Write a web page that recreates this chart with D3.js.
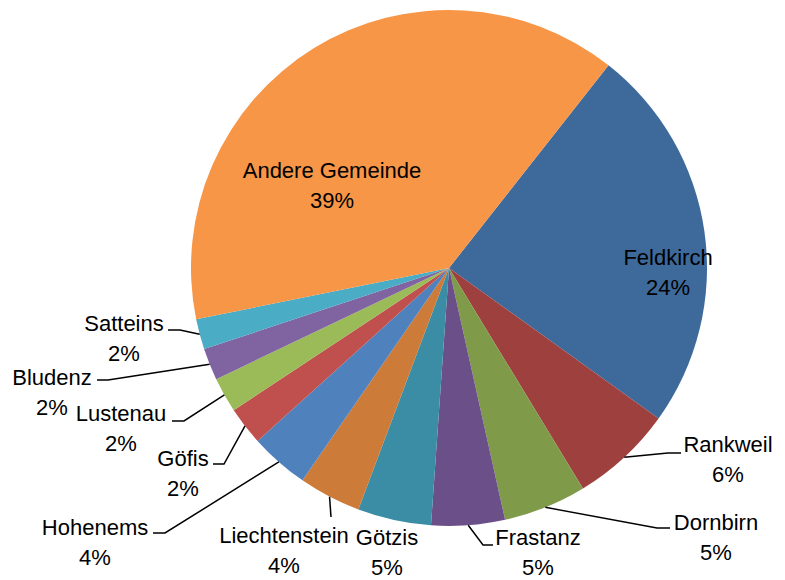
<!DOCTYPE html>
<html>
<head>
<meta charset="utf-8">
<script src="https://cdn.jsdelivr.net/npm/d3@7"></script>
<style>
  body { margin: 0; background: #fff; }
  text { font-family: "Liberation Sans", Arial, sans-serif; font-size: 22px; fill: #000; }
</style>
</head>
<body>
<script>
const width = 785;
const height = 580;

// slices, clockwise from the Feldkirch edge
const names = ["Feldkirch", "Rankweil", "Dornbirn", "Frastanz", "Götzis", "Liechtenstein",
  "Hohenems", "Göfis", "Lustenau", "Bludenz", "Satteins", "Andere Gemeinde"];
const shares = [24.3, 6.4, 5.2, 4.6, 4.6, 3.9, 3.7, 2.4, 2.2, 2.0, 1.9, 38.8];
const colors = ["#3E6A9B", "#9E413E", "#7F9A48", "#6A4F88", "#3A8DA4", "#CC7B38",
  "#4F81BD", "#C0504D", "#9BBB59", "#8064A2", "#4BACC6", "#F79646"];

// label layout: centre x, first line middle y, leader elbow + end (null = no leader)
const labelPos = {
  "Feldkirch":       [668, 257, null],
  "Andere Gemeinde": [332, 170, null],
  "Rankweil":        [728, 444, [[668, 453], [681, 453]]],
  "Dornbirn":        [716, 522, [[657, 528], [670, 528]]],
  "Frastanz":        [538, 537, [[483, 545], [493, 545]]],
  "Götzis":          [387, 537, null],
  "Liechtenstein":   [284, 535, [[331, 517], [331, 517]]],
  "Hohenems":        [95, 527, [[165, 533], [153, 533]]],
  "Göfis":           [183, 458, [[224, 464], [213, 464]]],
  "Lustenau":        [121, 413, [[184, 421], [172, 421]]],
  "Bludenz":         [52, 377, [[108, 380], [97, 380]]],
  "Satteins":        [124, 323, [[180, 330], [168, 330]]]
};

const cx = 449, cy = 268, r = 258;
const startDeg = 38.2;
const lineGap = 30;

const data = names.map((n, i) => ({name: n, value: shares[i], color: colors[i]}));
const total = d3.sum(shares);

const svg = d3.select("body").append("svg")
  .attr("width", width)
  .attr("height", height);

const g = svg.append("g")
  .attr("transform", `translate(${cx},${cy})`);

const pie = d3.pie()
  .sort(null)
  .value(d => d.value)
  .startAngle(startDeg * Math.PI / 180)
  .endAngle(startDeg * Math.PI / 180 + 2 * Math.PI);

const arc = d3.arc().innerRadius(0).outerRadius(r);
const arcs = pie(data);

g.selectAll("path.slice").data(arcs).enter().append("path")
  .attr("class", "slice")
  .attr("d", arc)
  .attr("fill", d => d.data.color);

// leader lines
const line = d3.line();
arcs.forEach(d => {
  const lp = labelPos[d.data.name];
  if (!lp[2]) return;
  const mid = (d.startAngle + d.endAngle) / 2;
  const p0 = [cx + r * Math.sin(mid), cy - r * Math.cos(mid)];
  svg.append("path")
    .attr("d", line([p0, lp[2][0], lp[2][1]]))
    .attr("fill", "none")
    .attr("stroke", "#000")
    .attr("stroke-width", 1.5);
});

// labels
arcs.forEach(d => {
  const lp = labelPos[d.data.name];
  const t = svg.append("text")
    .attr("text-anchor", "middle")
    .attr("transform", `translate(${lp[0]},${lp[1]})`);
  t.append("tspan").attr("x", 0).attr("y", 0).attr("dy", "0.35em").text(d.data.name);
  t.append("tspan").attr("x", 0).attr("y", lineGap).attr("dy", "0.35em")
    .text(Math.round(d.data.value / total * 100) + "%");
});
</script>
</body>
</html>
